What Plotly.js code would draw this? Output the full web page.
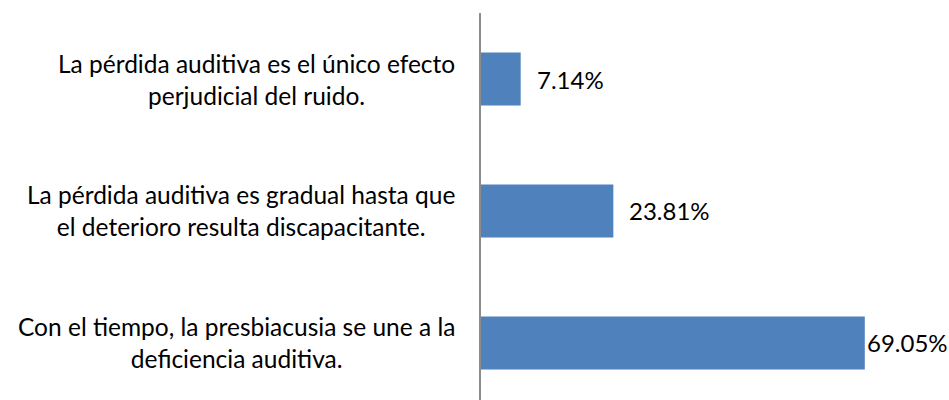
<!DOCTYPE html>
<html>
<head>
<meta charset="utf-8">
<script src="https://cdn.plot.ly/plotly-3.0.1.min.js"></script>
<style>html,body{margin:0;padding:0;background:#fff;}#chart{width:949px;height:400px;}</style>
</head>
<body>
<div id="chart"></div>
<script>
const categories = [
  "La pérdida auditiva es el único efecto<br>perjudicial del ruido.",
  "La pérdida auditiva es gradual hasta que<br>el deterioro resulta discapacitante.",
  "Con el tiempo, la presbiacusia se une a la<br>deficiencia auditiva."
];
const values = [7.14, 23.81, 69.05];
const valueLabels = ["7.14%", "23.81%", "69.05%"];

const FONT = "Lato, 'Open Sans', sans-serif";
const labelShift = [14, 14, 0];

const catAnnotations = categories.map((c, i) => ({
  xref: 'paper', yref: 'y', x: 0, y: i,
  xanchor: 'right', yanchor: 'middle', xshift: -24,
  text: c, align: 'center', showarrow: false,
  font: {family: FONT, size: 24.5, color: '#000'}
}));
const valAnnotations = values.map((v, i) => ({
  xref: 'x', yref: 'y', x: v, y: i,
  xanchor: 'left', yanchor: 'middle', xshift: labelShift[i],
  text: valueLabels[i], showarrow: false,
  font: {family: FONT, size: 24, color: '#000'}
}));

const data = [{
  type: 'bar', orientation: 'h',
  y: [0, 1, 2], x: values,
  width: 0.4,
  marker: {color: '#4F81BD'},
  hoverinfo: 'none'
}];

const layout = {
  width: 949, height: 400,
  margin: {l: 481, r: 0, t: 13, b: 0},
  paper_bgcolor: '#fff', plot_bgcolor: '#fff',
  showlegend: false,
  xaxis: {range: [0, 84.2], showgrid: false, zeroline: false, showticklabels: false, showline: false, ticks: ''},
  yaxis: {range: [2.432, -0.5], showgrid: false, zeroline: false, showticklabels: false,
          showline: true, linecolor: '#8c8c8c', linewidth: 2, ticks: ''},
  annotations: catAnnotations.concat(valAnnotations)
};

Plotly.newPlot('chart', data, layout, {staticPlot: true, displayModeBar: false});
</script>
</body>
</html>
